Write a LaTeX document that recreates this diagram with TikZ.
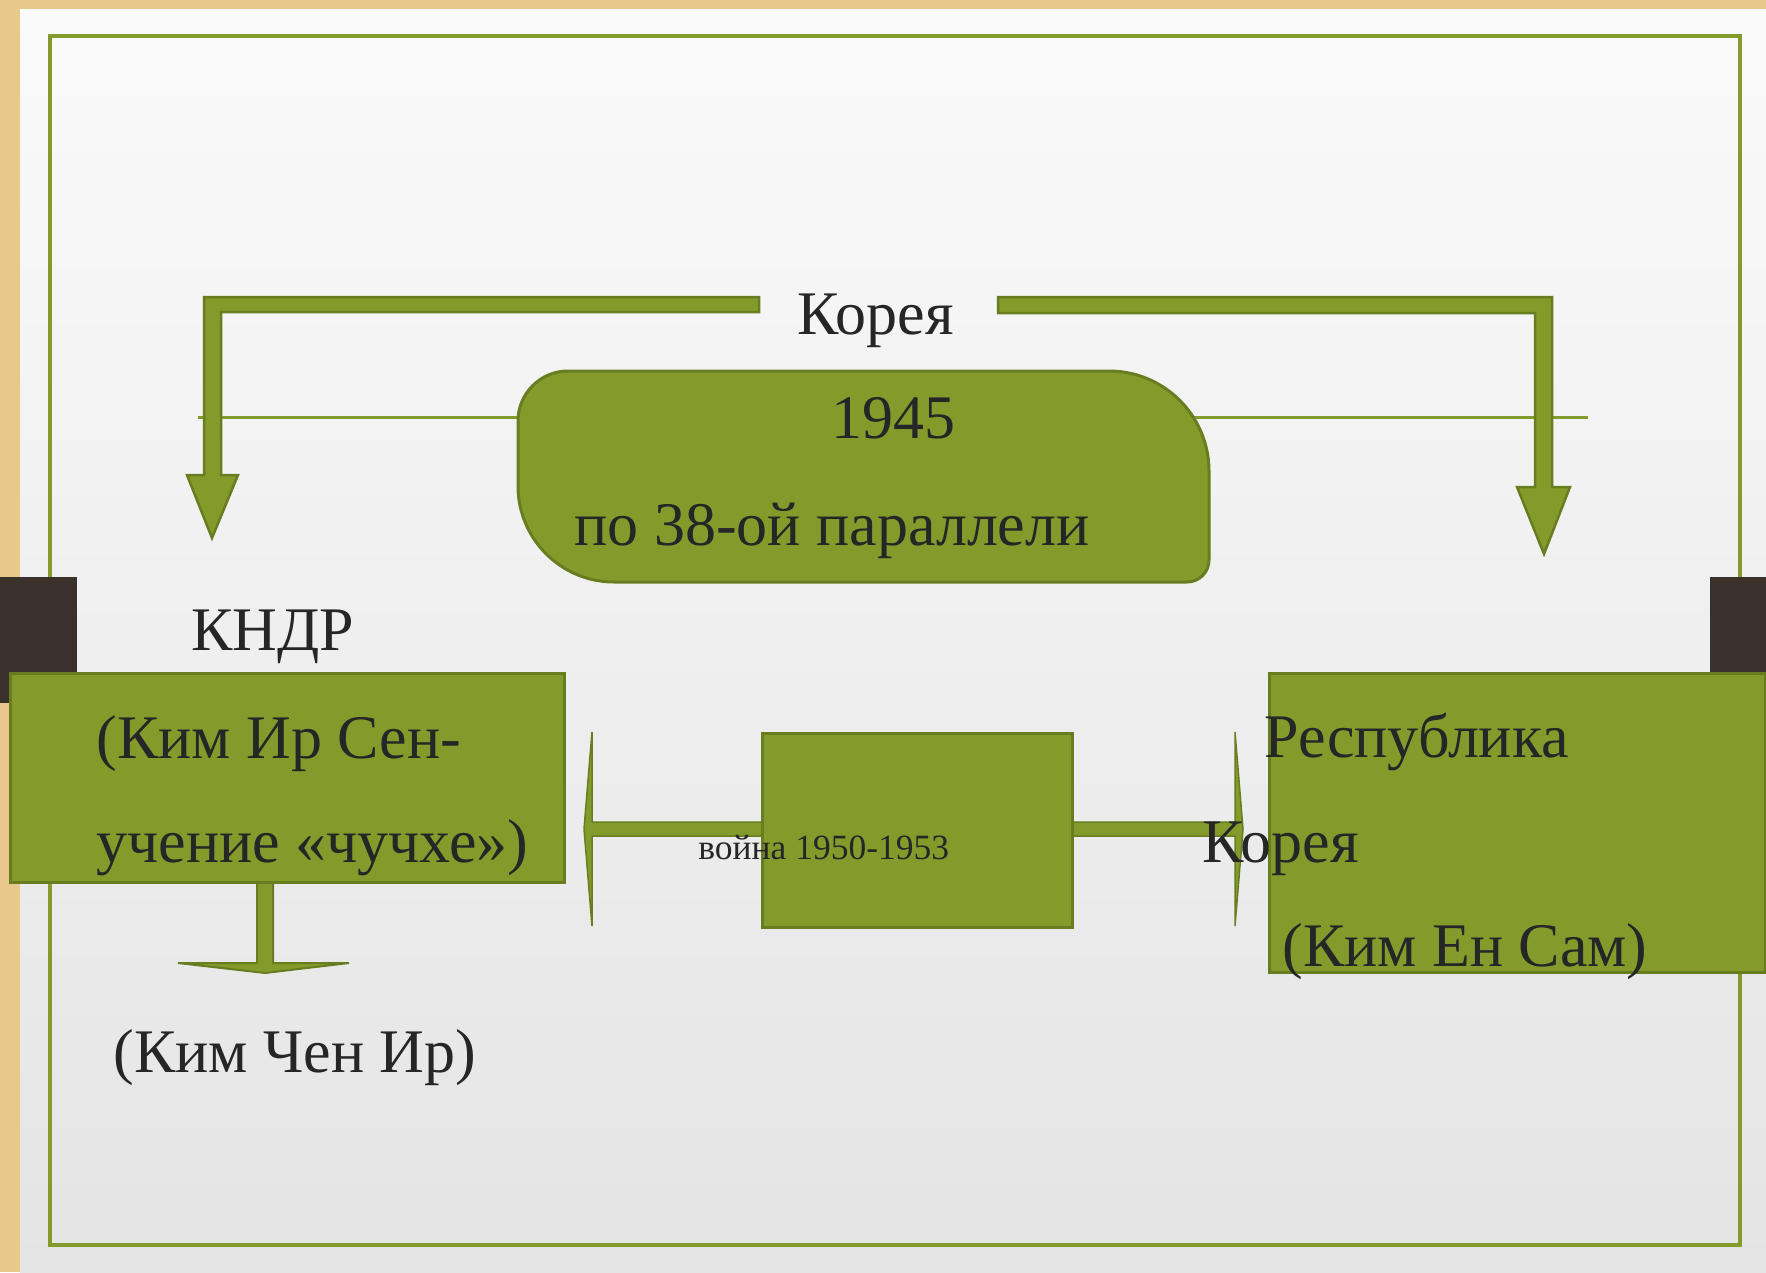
\documentclass[tikz,border=0pt]{standalone}
\usepackage{fontspec}
\setmainfont{Liberation Serif}

\definecolor{leafgreen}{RGB}{132,155,44}
\definecolor{leafdark}{RGB}{104,124,32}
\definecolor{inkgray}{RGB}{38,38,38}
\definecolor{tanbg}{RGB}{232,200,140}
\definecolor{tabbrown}{RGB}{58,50,42}
\definecolor{pagetop}{RGB}{250,250,250}
\definecolor{pagebot}{RGB}{228,228,228}

\newcommand\slidefont{\fontsize{62}{74}\selectfont}
\newcommand\smallslidefont{\fontsize{35.5}{42}\selectfont}

\tikzset{every picture/.style={line width=0.75pt}}
\tikzset{
  greenbox/.style={fill=leafgreen, draw=leafdark, line width=3, inner sep=0},
  blockarrow/.style={fill=leafgreen, draw=leafdark, line width=2.5, line join=miter},
  slidetext/.style={inner sep=0, text=inkgray, font=\slidefont, anchor=base west},
}

\begin{document}
\begin{tikzpicture}[x=1pt,y=1pt,yscale=-1,xscale=1]
	\useasboundingbox (0,0) rectangle (1766,1272);

	%Background and page
	\fill[tanbg] (0,0) rectangle (1766,1272);
	\shade[top color=pagetop, bottom color=pagebot] (20,9) rectangle (1766,1272);
	%Frame
	\draw[leafgreen, line width=4] (49.5,36) rectangle (1740,1244.5);
	%Tabs
	\fill[tabbrown] (0,577) rectangle (77,703);
	\fill[tabbrown] (1710,577) rectangle (1766,673);

	%Straight Lines [parallel]
	\draw[leafgreen, line width=3] (198,417) -- (1588,417);

	%Shape: Round Diagonal Corner Rectangle
	\draw[greenbox] (518,421) .. controls (518,393.4) and (540.4,371) .. (568,371) -- (1109,371) .. controls (1164.2,371) and (1209,415.8) .. (1209,471) -- (1209,560) .. controls (1209,572.2) and (1199.2,582) .. (1187,582) -- (614,582) .. controls (561,582) and (518,539) .. (518,486) -- cycle ;

	%Shape: Bent Arrows
	\draw[blockarrow] (759,297) -- (204,297) -- (204,475) -- (187,475) -- (212,538) -- (238,475) -- (221,475) -- (221,312) -- (759,312) -- cycle ;
	\draw[blockarrow] (998,297) -- (1552,297) -- (1552,487) -- (1570,487) -- (1544,554) -- (1517,487) -- (1535,487) -- (1535,313) -- (998,313) -- cycle ;

	%Shape: Left-Right Arrow
	\draw[blockarrow, line width=1.5] (762,822) -- (592,822) -- (592,732) -- (584,829) -- (592,926) -- (592,836) -- (762,836) ;
	\draw[blockarrow, line width=1.5] (1070,822) -- (1235,822) -- (1235,732) -- (1243,829) -- (1235,926) -- (1235,836) -- (1070,836) ;

	%Shape: Down Arrow
	\draw[blockarrow, line width=2] (257,880) -- (257,963) -- (178,963) -- (265,973) -- (349,963) -- (273,963) -- (273,880) ;

	%Boxes
	\node (kndr box) [greenbox, anchor=north west, minimum width=554, minimum height=209] at (9,672) {};
	\node (war box) [greenbox, anchor=north west, minimum width=310, minimum height=194] at (761,732) {};
	\node (korea box) [greenbox, anchor=north west, minimum width=496, minimum height=299] at (1268,672) {};

	%Texts
	\node (korea) [slidetext] at (797,334) {Корея};
	\node (year) [slidetext] at (831,438) {1945};
	\node (parallel) [slidetext] at (574,545) {по 38-ой параллели};
	\node (kndr) [slidetext] at (191,650) {КНДР};
	\node (kim il) [slidetext] at (96,758) {(Ким Ир Сен-};
	\node (juche) [slidetext] at (96,862) {учение «чучхе»)};
	\node (kim jong) [slidetext] at (113,1072) {(Ким Чен Ир)};
	\node (war) [slidetext, font=\smallslidefont] at (698,859) {война 1950-1953};
	\node (republic) [slidetext] at (1264,757) {Республика};
	\node (south) [slidetext] at (1202,862) {Корея};
	\node (kim young) [slidetext] at (1282,966) {(Ким Ен Сам)};

\end{tikzpicture}
\end{document}
